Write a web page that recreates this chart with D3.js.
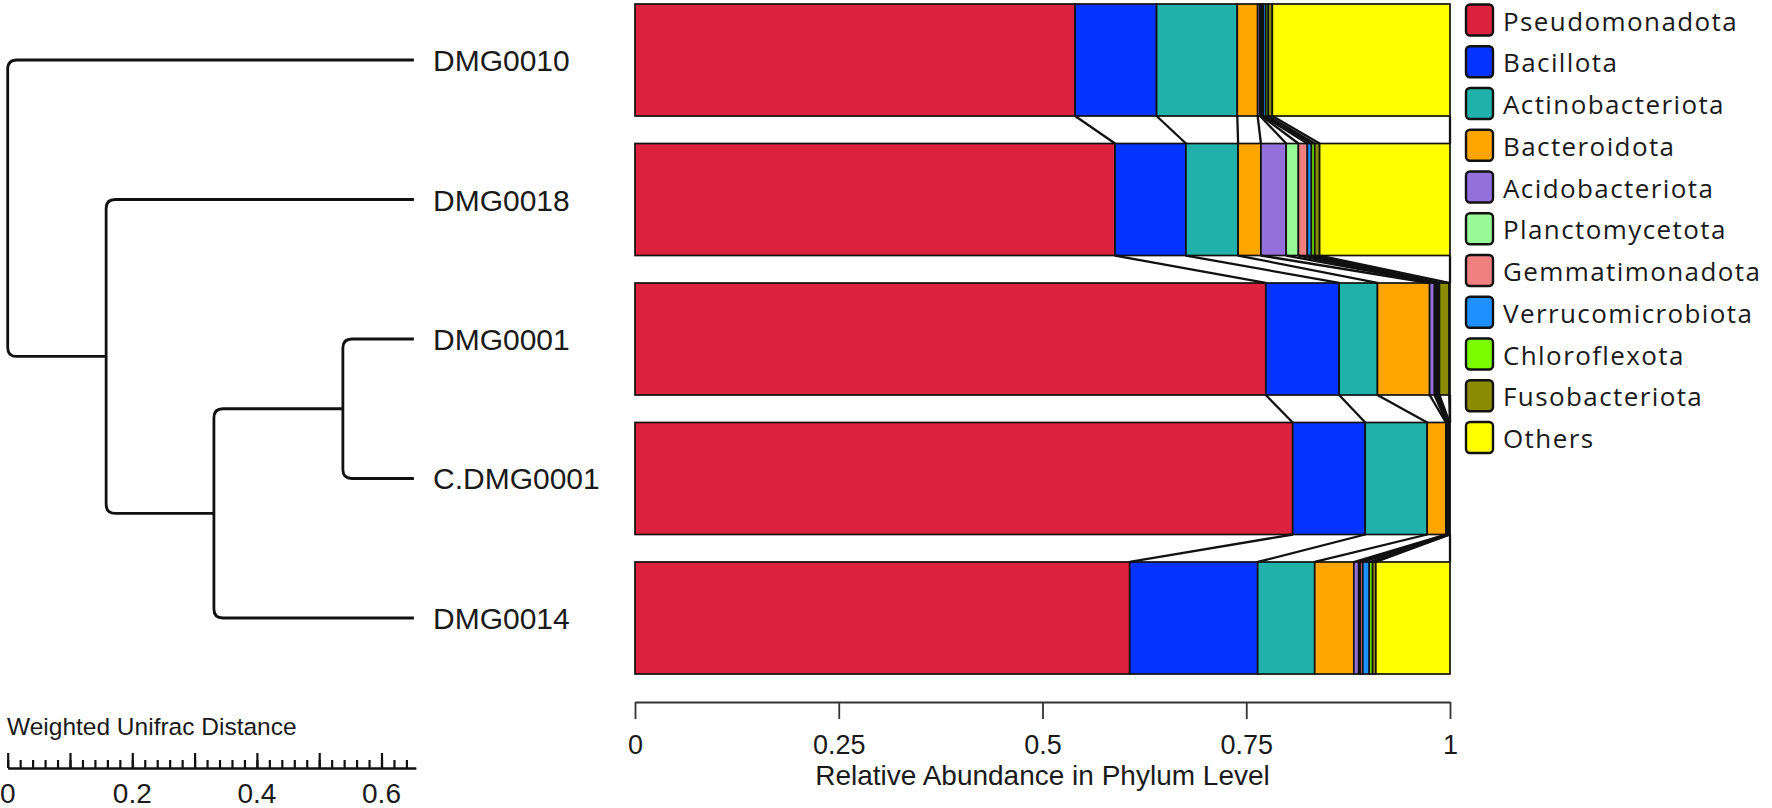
<!DOCTYPE html>
<html>
<head>
<meta charset="utf-8">
<script src="https://cdn.jsdelivr.net/npm/d3@7"></script>
<style>
    body { margin: 0; background: #fff; }
    text { fill: #1a1a1a; }
</style>
</head>
<body>
<div id="chart"></div>
<script>
// samples, top to bottom (same order as the dendrogram leaves)
const samples = ['DMG0010', 'DMG0018', 'DMG0001', 'C.DMG0001', 'DMG0014'];

const phyla = ['Pseudomonadota', 'Bacillota', 'Actinobacteriota', 'Bacteroidota', 'Acidobacteriota',
    'Planctomycetota', 'Gemmatimonadota', 'Verrucomicrobiota', 'Chloroflexota', 'Fusobacteriota', 'Others'];
const phylumColors = ['#dc223d', '#0433ff', '#20b2aa', '#ffa500', '#9370db',
    '#98fb98', '#f08080', '#1e90ff', '#7cfc00', '#8b8b00', '#ffff00'];

// relative abundance per sample (order of samples)
const pseudomonadota    = [0.540, 0.589, 0.774, 0.807, 0.607];
const bacillota         = [0.100, 0.087, 0.090, 0.089, 0.157];
const actinobacteriota  = [0.099, 0.064, 0.047, 0.076, 0.070];
const bacteroidota      = [0.025, 0.028, 0.064, 0.023, 0.048];
const acidobacteriota   = [0.003, 0.031, 0.006, 0.001, 0.006];
const planctomycetota   = [0.002, 0.015, 0.001, 0.001, 0.002];
const gemmatimonadota   = [0.002, 0.011, 0.001, 0.001, 0.003];
const verrucomicrobiota = [0.003, 0.005, 0.002, 0.001, 0.008];
const chloroflexota     = [0.003, 0.004, 0.002, 0.0005, 0.004];
const fusobacteriota    = [0.005, 0.006, 0.012, 0.0005, 0.004];
const others            = [0.218, 0.160, 0.001, 0.000, 0.091];

const abundance = [pseudomonadota, bacillota, actinobacteriota, bacteroidota, acidobacteriota,
    planctomycetota, gemmatimonadota, verrucomicrobiota, chloroflexota, fusobacteriota, others];

// dendrogram (weighted unifrac), distances measured from the root
const treeNodes    = ['root', 'n2', 'n3', 'n4'];
const treeDepth    = [0, 0.158, 0.331, 0.538];
const treeChildren = [['DMG0010', 'n2'], ['DMG0018', 'n3'], ['n4', 'DMG0014'], ['DMG0001', 'C.DMG0001']];
const leafDepth = 0.652;
const distMax = 0.655;
const distMajorTicks = [0, 0.1, 0.2, 0.3, 0.4, 0.5, 0.6];
const distLabels = [0, 0.2, 0.4, 0.6];
const abundanceTicks = [0, 0.25, 0.5, 0.75, 1];

const W = 1772, H = 808;

const svg = d3.select('#chart').append('svg')
    .attr('width', W)
    .attr('height', H)
    .style('font-family', '"Liberation Sans", Arial, sans-serif');

const x = d3.scaleLinear().domain([0, 1]).range([635, 1450]);
const y = d3.scaleBand().domain(samples).range([4, 674]).paddingInner(0.197);
const dx = d3.scaleLinear().domain([0, distMax]).range([7.7, 7.7 + distMax * 623]);

// ---- stacked bars ----
const rows = samples.map((s, i) => {
    const r = { sample: s };
    phyla.forEach((p, k) => r[p] = abundance[k][i]);
    return r;
});
const series = d3.stack().keys(phyla)(rows);

const barG = svg.append('g');
barG.selectAll('g')
    .data(series)
    .enter().append('g')
    .attr('fill', (d, k) => phylumColors[k])
    .selectAll('rect')
    .data(d => d)
    .enter().append('rect')
    .attr('x', d => x(d[0]))
    .attr('y', d => y(d.data.sample))
    .attr('width', d => x(d[1]) - x(d[0]))
    .attr('height', y.bandwidth())
    .attr('stroke', '#111')
    .attr('stroke-width', 1.7);

// connector lines between neighbouring bars
const links = [];
series.forEach(s => {
    for (let i = 0; i < samples.length - 1; i++) {
        links.push({ from: s[i][1], to: s[i + 1][1], i: i });
    }
});
barG.selectAll('.link')
    .data(links)
    .enter().append('line')
    .attr('class', 'link')
    .attr('x1', d => x(d.from))
    .attr('y1', d => y(samples[d.i]) + y.bandwidth())
    .attr('x2', d => x(d.to))
    .attr('y2', d => y(samples[d.i + 1]))
    .attr('stroke', '#111')
    .attr('stroke-width', 2.3);

// abundance axis
const xAxis = svg.append('g')
    .attr('transform', 'translate(0,702)')
    .call(d3.axisBottom(x).tickValues(abundanceTicks).tickSize(17).tickSizeOuter(0)
        .tickPadding(16).tickFormat(d => String(d)));
xAxis.selectAll('path, line').attr('stroke', '#333').attr('stroke-width', 1.8);
xAxis.selectAll('text').style('font-size', '27px').style('font-family', '"Liberation Sans", Arial, sans-serif').attr('fill', '#1a1a1a');

svg.append('text')
    .attr('x', (x(0) + x(1)) / 2)
    .attr('y', 785)
    .attr('text-anchor', 'middle')
    .style('font-size', '28px')
    .text('Relative Abundance in Phylum Level');

// ---- dendrogram ----
const leafY = s => y(s) + y.bandwidth() / 2;
function nodeY(name) {
    const k = treeNodes.indexOf(name);
    if (k < 0) return leafY(name);
    return d3.mean(treeChildren[k], nodeY);
}
function nodeX(name) {
    const k = treeNodes.indexOf(name);
    return k < 0 ? dx(leafDepth) : dx(treeDepth[k]);
}

const r = 9;
const treeG = svg.append('g')
    .attr('fill', 'none')
    .attr('stroke', '#111')
    .attr('stroke-width', 2.8);
treeNodes.forEach((n, k) => {
    const xn = dx(treeDepth[k]);
    const [a, b] = treeChildren[k].slice().sort((p, q) => nodeY(p) - nodeY(q));
    const ya = nodeY(a), yb = nodeY(b);
    const p = d3.path();
    p.moveTo(nodeX(a), ya);
    p.lineTo(xn + r, ya);
    p.quadraticCurveTo(xn, ya, xn, ya + r);
    p.lineTo(xn, yb - r);
    p.quadraticCurveTo(xn, yb, xn + r, yb);
    p.lineTo(nodeX(b), yb);
    treeG.append('path').attr('d', p.toString());
});

svg.append('g')
    .selectAll('text')
    .data(samples)
    .enter().append('text')
    .attr('x', 433)
    .attr('y', d => leafY(d) + 11)
    .style('font-size', '30px')
    .text(d => d);

// distance scale bar
svg.append('text')
    .attr('x', 7)
    .attr('y', 735)
    .style('font-size', '24.5px')
    .text('Weighted Unifrac Distance');

const minorG = svg.append('g')
    .attr('transform', 'translate(0,768)')
    .call(d3.axisTop(dx).tickValues(d3.range(0, 0.645, 0.02)).tickSize(8).tickSizeOuter(0).tickFormat(''));
const majorG = svg.append('g')
    .attr('transform', 'translate(0,768)')
    .call(d3.axisTop(dx).tickValues(distMajorTicks).tickSize(15).tickSizeOuter(0).tickFormat(''));
[minorG, majorG].forEach(g => g.selectAll('path, line').attr('stroke', '#111').attr('stroke-width', 2.2));

svg.append('g')
    .selectAll('text')
    .data(distLabels)
    .enter().append('text')
    .attr('x', d => dx(d))
    .attr('y', 803)
    .attr('text-anchor', 'middle')
    .style('font-size', '28px')
    .text(d => String(d));

// ---- legend ----
const legend = svg.append('g')
    .selectAll('g')
    .data(phyla)
    .enter().append('g')
    .attr('transform', (d, i) => `translate(1466, ${4.5 + i * 41.75})`);
legend.append('rect')
    .attr('width', 27)
    .attr('height', 31)
    .attr('rx', 4)
    .attr('fill', (d, i) => phylumColors[i])
    .attr('stroke', '#111')
    .attr('stroke-width', 2.4);
legend.append('text')
    .attr('x', 37)
    .attr('y', 26)
    .style('font-family', '"Open Sans", sans-serif')
    .style('font-size', '26px')
    .style('letter-spacing', '1.4px')
    .text(d => d);
</script>
</body>
</html>
